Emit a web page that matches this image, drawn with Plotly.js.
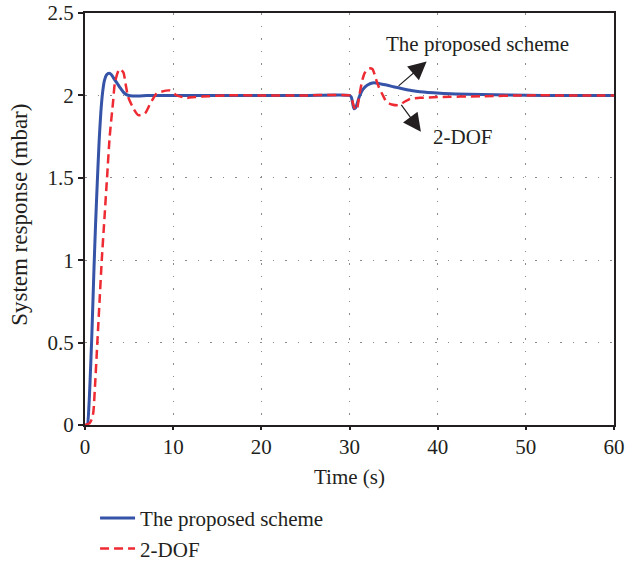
<!DOCTYPE html>
<html>
<head>
<meta charset="utf-8">
<script src="https://cdn.plot.ly/plotly-3.0.1.min.js"></script>
<style>html,body{margin:0;padding:0;background:#fff;}#chart{width:638px;height:562px;}</style>
</head>
<body>
<div id="chart"></div>
<script>
// Proposed scheme (blue solid)
const tProposed = [0, 0.25, 0.45, 0.6, 0.76, 0.9, 1.02, 1.2, 1.4, 1.6, 1.8, 2.0, 2.2, 2.45, 2.75, 3.0, 3.3, 3.6, 4.0, 4.35, 4.7, 5.1, 6, 7, 8, 10, 15, 20, 25, 30, 30.2, 30.35, 30.5, 30.7, 30.9, 31.1, 31.5, 32.0, 32.75, 33.5, 34.3, 35.0, 35.8, 37.0, 38.0, 40.3, 42, 45, 48, 52, 56, 60];
const yProposed = [0, 0, 0.12, 0.3, 0.52, 0.75, 0.95, 1.22, 1.48, 1.72, 1.9, 2.02, 2.09, 2.125, 2.134, 2.125, 2.1, 2.078, 2.045, 2.02, 2.005, 1.998, 1.996, 1.999, 2.0, 2.0, 2.0, 2.0, 2.0, 2.0, 1.99, 1.955, 1.92, 1.925, 1.955, 1.99, 2.035, 2.062, 2.077, 2.07, 2.062, 2.052, 2.043, 2.03, 2.022, 2.013, 2.009, 2.005, 2.002, 2.0, 2.0, 2.0];

// 2-DOF (red dashed)
const tDOF = [0, 0.5, 0.8, 0.95, 1.15, 1.4, 1.65, 1.9, 2.2, 2.5, 2.8, 3.2, 3.4, 3.9, 4.35, 4.6, 4.9, 5.5, 6.05, 6.8, 7.4, 8.1, 8.5, 9.6, 10.4, 11.5, 12.5, 14, 16, 20, 25, 30, 30.2, 30.45, 30.7, 30.9, 31.05, 31.4, 31.7, 32.2, 32.6, 33.0, 33.4, 33.7, 34.2, 34.8, 35.6, 36.2, 36.9, 38, 40, 45, 50, 55, 60];
const yDOF = [0, 0.01, 0.04, 0.08, 0.25, 0.5, 0.75, 1.0, 1.25, 1.5, 1.75, 1.97, 2.08, 2.16, 2.14, 2.07, 1.99, 1.92, 1.88, 1.89, 1.95, 2.01, 2.02, 2.03, 2.0, 1.985, 1.99, 1.995, 2.0, 2.0, 2.0, 2.0, 1.99, 1.94, 1.91, 1.93, 1.98, 2.08, 2.134, 2.165, 2.16, 2.1, 2.04, 2.01, 1.96, 1.945, 1.94, 1.96, 1.98, 1.985, 1.99, 1.995, 2.0, 2.0, 2.0];

const seriesNames = ["The proposed scheme", "2-DOF"];
const xTicks = [0, 10, 20, 30, 40, 50, 60];
const yTicks = [0, 0.5, 1, 1.5, 2, 2.5];
const yTickText = ["0", "0.5", "1", "1.5", "2", "2.5"];
const xTitle = "Time (s)";
const yTitle = "System response (mbar)";

const FONT = "Liberation Serif, Times New Roman, serif";
const INK = "#231f20";

const traces = [
  {x: tProposed, y: yProposed, name: seriesNames[0], mode: "lines", type: "scatter",
   line: {color: "#3553a7", width: 3, shape: "spline", smoothing: 0.6}},
  {x: tDOF, y: yDOF, name: seriesNames[1], mode: "lines", type: "scatter",
   line: {color: "#ee2a32", width: 2.5, dash: "9px,5px", shape: "spline", smoothing: 0.6}}
];

const layout = {
  width: 638, height: 562,
  margin: {l: 85, r: 24, t: 13, b: 137, autoexpand: false},
  paper_bgcolor: "#fff", plot_bgcolor: "#fff",
  font: {family: FONT, size: 21, color: INK},
  showlegend: true,
  legend: {xref: "container", yref: "container", x: 0.149, y: 0.114, xanchor: "left", yanchor: "top",
           orientation: "v",
           font: {family: FONT, size: 21, color: INK}, bgcolor: "rgba(0,0,0,0)",
           tracegroupgap: 0, itemwidth: 35},
  xaxis: {range: [0, 60], tickvals: xTicks, ticktext: xTicks.map(String),
          showline: true, linecolor: INK, linewidth: 2, mirror: true,
          ticks: "outside", ticklen: 3, tickwidth: 2, tickcolor: INK, ticklabelstandoff: -1,
          showgrid: true, gridcolor: "#8a8a8a", gridwidth: 1, griddash: "1.5px,11px",
          zeroline: false, tickfont: {family: FONT, size: 21}, automargin: false},
  yaxis: {range: [0, 2.5], tickvals: yTicks, ticktext: yTickText,
          showline: true, linecolor: INK, linewidth: 2, mirror: true,
          ticks: "outside", ticklen: 5, tickwidth: 2, tickcolor: INK,
          showgrid: true, gridcolor: "#8a8a8a", gridwidth: 1, griddash: "1.5px,11px",
          zeroline: false, tickfont: {family: FONT, size: 21}, automargin: false},
  annotations: [
    {x: 0.5, y: -0.1262, xref: "paper", yref: "paper", text: xTitle, showarrow: false,
     xanchor: "center", yanchor: "middle", font: {family: FONT, size: 21, color: INK}},
    {x: -0.1229, y: 0.51, xref: "paper", yref: "paper", text: yTitle, showarrow: false, textangle: -90,
     xanchor: "center", yanchor: "middle", font: {family: FONT, size: 23, color: INK}},
    {x: 38.75, y: 2.205, ax: 35.4, ay: 2.05, axref: "x", ayref: "y", xref: "x", yref: "y",
     text: "", showarrow: true, arrowhead: 2, arrowsize: 3, arrowwidth: 1.2, arrowcolor: INK},
    {x: 38.1, y: 1.78, ax: 35.75, ay: 1.952, axref: "x", ayref: "y", xref: "x", yref: "y",
     text: "", showarrow: true, arrowhead: 2, arrowsize: 3, arrowwidth: 1.2, arrowcolor: INK},
    {x: 44.5, y: 2.31, xref: "x", yref: "y", text: seriesNames[0], showarrow: false,
     xanchor: "center", yanchor: "middle", font: {family: FONT, size: 21, color: INK}},
    {x: 42.9, y: 1.75, xref: "x", yref: "y", text: seriesNames[1], showarrow: false,
     xanchor: "center", yanchor: "middle", font: {family: FONT, size: 21, color: INK}}
  ]
};

Plotly.newPlot("chart", traces, layout, {displayModeBar: false, staticPlot: true});
</script>
</body>
</html>
